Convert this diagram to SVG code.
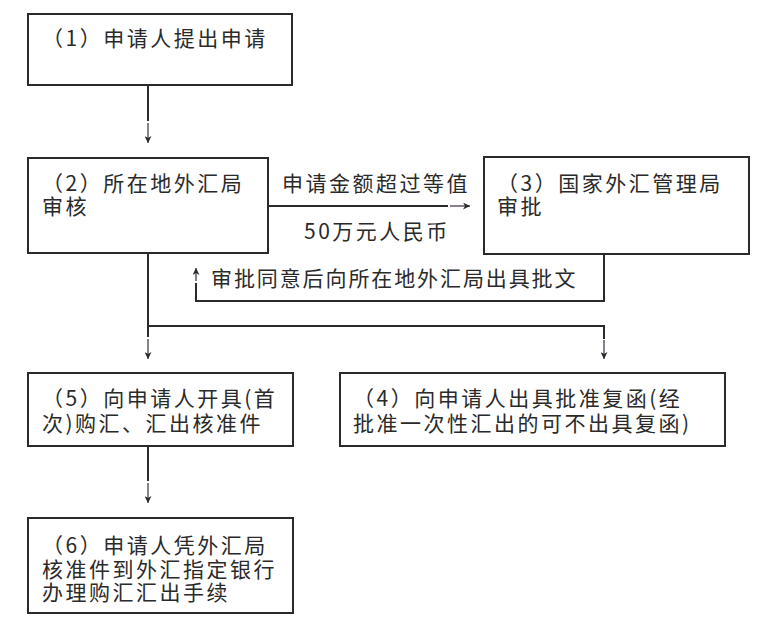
<svg xmlns="http://www.w3.org/2000/svg" width="776" height="627" viewBox="0 0 776 627">
<style>
.box{fill:#fff;stroke:#2a2a2a;stroke-width:2}
.ln{fill:none;stroke:#2a2a2a;stroke-width:2}
.thin{fill:none;stroke:#3a2a48;stroke-width:1.2;marker-end:url(#ah)}
text{font-family:"Noto Sans CJK SC","Noto Sans",sans-serif;font-size:21px;fill:#2a2a2a;letter-spacing:2.5px}
text.fb{letter-spacing:1.9px}
</style>
<defs>
<marker id="ah" viewBox="0 0 10 10" refX="10" refY="5" markerWidth="7" markerHeight="7" markerUnits="userSpaceOnUse" orient="auto">
<path d="M0,0 L10,5 L0,10 L3,5 Z" fill="#2a2a2a"/>
</marker>
</defs>
<rect width="776" height="627" fill="#fff"/>
<g id="connectors">
<path class="ln" d="M148,85 V121"/>
<path class="thin" d="M148,123 V143"/>
<path class="ln" d="M268,206 H448"/>
<path class="thin" d="M450,206 H470"/>
<path class="ln" d="M604,254 V301 H196 V283"/>
<path class="thin" d="M196,281 V268"/>
<path class="ln" d="M148,253 V337"/>
<path class="ln" d="M148,326 H604 V339"/>
<path class="thin" d="M148,339 V359"/>
<path class="thin" d="M604,340 V359"/>
<path class="ln" d="M148,446 V481"/>
<path class="thin" d="M148,483 V503"/>
<text x="282" y="191">申请金额超过等值</text>
<text x="304" y="239">50万元人民币</text>
<text class="fb" x="211" y="286">审批同意后向所在地外汇局出具批文</text>
</g>
<g id="node1">
<rect class="box" x="28" y="14" width="264" height="71"/>
<text x="42" y="46">（1）申请人提出申请</text>
</g>
<g id="node2">
<rect class="box" x="28" y="158" width="240" height="95"/>
<text x="42" y="191">（2）所在地外汇局</text>
<text x="42" y="214">审核</text>
</g>
<g id="node3">
<rect class="box" x="484" y="157" width="265" height="97"/>
<text x="497" y="191">（3）国家外汇管理局</text>
<text x="497" y="214">审批</text>
</g>
<g id="node5">
<rect class="box" x="28" y="373" width="265" height="73"/>
<text x="42" y="406">（5）向申请人开具(首</text>
<text x="42" y="431">次)购汇、汇出核准件</text>
</g>
<g id="node4">
<rect class="box" x="340" y="373" width="385" height="73"/>
<text x="353" y="406">（4）向申请人出具批准复函(经</text>
<text x="353" y="431">批准一次性汇出的可不出具复函)</text>
</g>
<g id="node6">
<rect class="box" x="28" y="518" width="265" height="95"/>
<text x="42" y="553">（6）申请人凭外汇局</text>
<text x="42" y="577">核准件到外汇指定银行</text>
<text x="42" y="600">办理购汇汇出手续</text>
</g>
</svg>
